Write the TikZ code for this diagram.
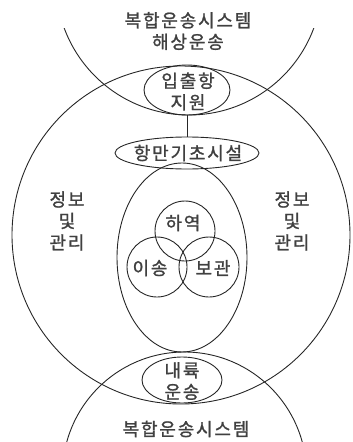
\documentclass[tikz,border=0pt]{standalone}
\usepackage{fontspec}
\newfontfamily\krfont{Noto Sans CJK KR}[LetterSpace=10,FakeBold=1.2]
\usetikzlibrary{shapes.geometric}
\begin{document}
\begin{tikzpicture}[x=1pt,y=-1pt,
  ln/.style={draw=black!85, line width=0.9pt},
  ring/.style={ln, circle, inner sep=0pt, outer sep=0pt},
  ell/.style={ln, ellipse, inner sep=0pt, outer sep=0pt},
  lbl/.style={text=black!75, font=\krfont\fontsize{18}{21.5}\selectfont, align=center, inner sep=0pt}]
\useasboundingbox (0,0) rectangle (353,442);
% large circle: port
\node[ring, minimum size=338pt] (port) at (181,235) {};
% upper system circle (sea)
\begin{scope}
  \clip (0,28) rectangle (353,442);
  \node[ring, minimum size=266pt] (sea) at (189,-18) {};
\end{scope}
% lower system circle (inland)
\node[ring, minimum size=244pt] (land) at (184.5,474) {};
% inner elements
\node[ell, minimum width=86pt, minimum height=50pt] (entry) at (187,90) {};
\node[ell, minimum width=144pt, minimum height=32pt] (base) at (187,153) {};
\node[ell, minimum width=130pt, minimum height=189pt] (core) at (182,257.5) {};
\node[ring, minimum size=60pt] (handling) at (185,231) {};
\node[ring, minimum size=60pt] (transfer) at (157,267) {};
\node[ring, minimum size=60pt] (storage) at (209,267) {};
\node[ell, minimum width=80pt, minimum height=46pt] (inland) at (182,380) {};
\draw[ln] (entry.south) -- (base.north);
% labels
\node[lbl] (tsys) at (188,31) {복합운송시스템\\해상운송};
\node[lbl] (tentry) at (188,91.5) {입출항\\지원};
\node[lbl] (tbase) at (188,153) {항만기초시설};
\node[lbl] (tinfoL) at (67,221) {정보\\및\\관리};
\node[lbl] (tinfoR) at (292,221) {정보\\및\\관리};
\node[lbl] (thandling) at (183,223) {하역};
\node[lbl] (ttransfer) at (150,268) {이송};
\node[lbl] (tstorage) at (213,268) {보관};
\node[lbl] (tinland) at (182,381) {내륙\\운송};
\node[lbl] (tsysb) at (186,429) {복합운송시스템};
\end{tikzpicture}
\end{document}
